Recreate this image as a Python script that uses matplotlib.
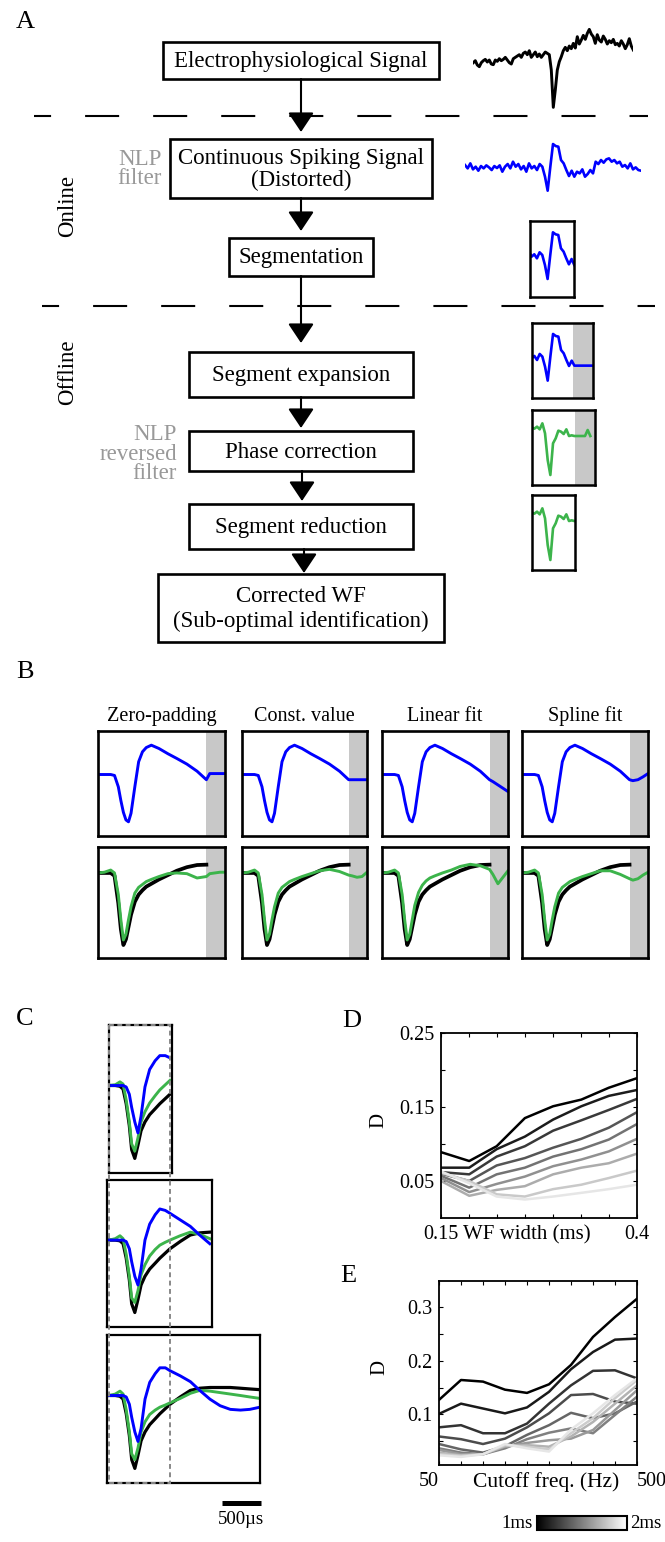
import numpy as np
import matplotlib.pyplot as plt
from matplotlib.patches import Rectangle
from matplotlib.cm import ScalarMappable
from matplotlib.colors import Normalize

plt.rcParams["font.family"] = ["Liberation Serif", "DejaVu Serif"]
plt.rcParams["lines.scale_dashes"] = False

W, H = 665, 1542
BLUE = "#0000ff"
GREEN = "#3cb44b"
SHADE = "#c8c8c8"
NOTE = "#999999"

# ---------------- data ----------------
# A: raw recording (uV), one sample per step
raw_trace = [-18, -12, -25, -30, -18, -12, -8, -16, -10, -22,
             -24, -10, -14, -6, -12, -8, -2, -10, -18, -22,
             -6, -2, 2, 6, -2, 10, 14, 6, 18, -2,
             6, 14, 0, 8, -2, 6, 14, 10, 6, -40,
             -152, -100, -40, -15, 0, 18, 28, 18, 32, 24,
             40, 26, 60, 38, 50, 64, 52, 70, 82, 68,
             60, 40, 66, 50, 44, 62, 52, 38, 48, 42,
             52, 36, 40, 32, 48, 38, 24, 36, 54, 32,
             20]
# A: NLP filtered (distorted) trace
nlp_trace = [5, -5, 10, -8, 0, -12, 2, -5, 4, -2,
             -10, 2, -4, 4, -15, 0, 8, -5, 15, 0,
             8, -8, 2, -15, 10, -5, 2, -10, 8, 0,
             -30, -72, 0, 68, 62, 60, 20, 10, -10, -28,
             -12, -30, -15, -20, -8, -30, -22, -10, -20, 15,
             8, 20, 12, 22, 25, 15, 20, 10, 15, 0,
             5, -5, 10, -8, -2, -10, -12]
seg_first, seg_last = 24, 41          # samples kept by the segmentation
seg_expansion = [-27, -27, -27, -27, -27, -27, -27, -27]
# phase corrected segment, samples 24..47
corrected_seg = [42, 48, 44, 50, 42, 60, 30, -50, -95, 0,
                 15, 38, 35, 28, 42, 22, 24, 22, 22, 22,
                 22, 22, 40, 22]

# B: expansion methods (time in ms, amplitude normalised to trough)
fill_methods = ["Zero-padding", "Const. value", "Linear fit", "Spline fit"]
t_b = [0, 0.075, 0.15, 0.195, 0.24, 0.27, 0.30, 0.33, 0.36, 0.39, 0.435, 0.48,
       0.525, 0.57, 0.63, 0.72, 0.825, 0.93, 1.05, 1.17, 1.28, 1.32, 1.38, 1.44, 1.5]
seg_end_b = 1.28
orig_b = [0, 0, 0, -0.04, -0.42, -0.78, -1.0, -0.92, -0.75, -0.58, -0.4, -0.3,
          -0.24, -0.19, -0.15, -0.09, -0.03, 0.03, 0.08, 0.11, 0.115]
dist_zero = [0, 0, 0, -0.02, -0.26, -0.55, -0.8, -0.96, -1.0, -0.82, -0.26, 0.27,
             0.48, 0.57, 0.62, 0.55, 0.44, 0.34, 0.22, 0.07, -0.11, 0.02, 0.02, 0.02, 0.02]
dist_const = [0, 0, 0, -0.02, -0.26, -0.55, -0.8, -0.96, -1.0, -0.82, -0.26, 0.27,
              0.48, 0.57, 0.62, 0.55, 0.44, 0.34, 0.22, 0.07, -0.11, -0.11, -0.11, -0.11, -0.11]
dist_linear = [0, 0, 0, -0.02, -0.26, -0.55, -0.8, -0.96, -1.0, -0.82, -0.26, 0.27,
               0.48, 0.57, 0.62, 0.55, 0.44, 0.34, 0.22, 0.07, -0.11, -0.15, -0.22, -0.29, -0.36]
dist_spline = [0, 0, 0, -0.02, -0.26, -0.55, -0.8, -0.96, -1.0, -0.82, -0.26, 0.27,
               0.48, 0.57, 0.62, 0.55, 0.44, 0.34, 0.22, 0.07, -0.11, -0.13, -0.11, -0.05, 0.02]
corr_zero = [0, 0.01, 0.04, 0.0, -0.3, -0.65, -0.93, -0.85, -0.65, -0.47, -0.28, -0.2,
             -0.16, -0.12, -0.09, -0.05, -0.01, 0.0, -0.01, -0.07, -0.05, -0.01, 0.0, 0.01, 0.01]
corr_const = [0, 0.01, 0.04, 0.0, -0.3, -0.65, -0.93, -0.85, -0.65, -0.47, -0.28, -0.2,
              -0.16, -0.12, -0.09, -0.05, -0.01, 0.03, 0.05, 0.02, -0.03, -0.04, -0.06, -0.05, 0.01]
corr_linear = [0, 0.01, 0.04, 0.0, -0.3, -0.65, -0.93, -0.85, -0.65, -0.45, -0.27, -0.17,
               -0.11, -0.07, -0.04, 0.0, 0.04, 0.09, 0.12, 0.1, 0.05, -0.02, -0.15, -0.06, 0.03]
corr_spline = [0, 0.01, 0.04, 0.0, -0.3, -0.65, -0.93, -0.85, -0.65, -0.47, -0.28, -0.2,
               -0.16, -0.12, -0.09, -0.05, -0.01, 0.03, 0.03, -0.02, -0.08, -0.1, -0.08, -0.03, 0.01]

# C: three segment lengths (time in ms)
t_c = [0, 0.08, 0.14, 0.18, 0.22, 0.26, 0.29, 0.33, 0.37, 0.41, 0.46, 0.52, 0.59,
       0.65, 0.72, 0.78, 0.91, 1.04, 1.16, 1.29, 1.42, 1.55, 1.68, 1.80, 1.93]
orig_c = [0, 0, -0.01, -0.05, -0.25, -0.55, -0.88, -1.0, -0.82, -0.62, -0.5, -0.4, -0.32,
          -0.25, -0.18, -0.12, -0.02, 0.07, 0.1, 0.11, 0.11, 0.11, 0.1, 0.09, 0.08]
green_c1 = [0, 0.01, 0.05, 0.02, -0.2, -0.5, -0.8, -0.9, -0.72, -0.5, -0.36, -0.24, -0.14,
            -0.06, 0.01, 0.07]
blue_c1 = [0, 0, 0, 0, -0.02, -0.12, -0.3, -0.5, -0.65, -0.42, -0.02, 0.22, 0.34, 0.41, 0.41, 0.38]
green_c2 = [0, 0.02, 0.06, 0.02, -0.2, -0.5, -0.8, -0.86, -0.7, -0.48, -0.34, -0.22, -0.13,
            -0.07, -0.03, 0.0, 0.06, 0.11, 0.08, 0.02]
blue_c2 = [0, 0, 0, 0, -0.02, -0.12, -0.3, -0.5, -0.62, -0.4, 0.0, 0.22, 0.35, 0.43, 0.41,
           0.37, 0.28, 0.19, 0.07, -0.05]
green_c3 = [0, 0.02, 0.06, 0.02, -0.2, -0.5, -0.8, -0.88, -0.72, -0.5, -0.36, -0.26, -0.2,
            -0.16, -0.13, -0.1, -0.04, 0.03, 0.07, 0.06, 0.04, 0.02, 0.0, -0.02, -0.04]
blue_c3 = [0, 0, 0, 0, -0.02, -0.12, -0.3, -0.5, -0.63, -0.45, -0.05, 0.18, 0.3, 0.38, 0.38,
           0.34, 0.27, 0.19, 0.07, -0.05, -0.14, -0.19, -0.2, -0.19, -0.16]
scale_bar_ms = 0.5

# D: distance vs WF width, one curve per segment length (1ms .. 2ms)
wf_width = [0.15, 0.186, 0.221, 0.257, 0.293, 0.329, 0.364, 0.40]
d_width = [
    [0.089, 0.077, 0.097, 0.135, 0.151, 0.160, 0.176, 0.189],
    [0.068, 0.068, 0.093, 0.110, 0.133, 0.151, 0.165, 0.173],
    [0.062, 0.059, 0.083, 0.097, 0.118, 0.132, 0.146, 0.161],
    [0.060, 0.050, 0.071, 0.081, 0.095, 0.107, 0.122, 0.143],
    [0.057, 0.041, 0.059, 0.068, 0.083, 0.093, 0.106, 0.127],
    [0.054, 0.035, 0.046, 0.056, 0.070, 0.079, 0.090, 0.107],
    [0.050, 0.030, 0.038, 0.043, 0.059, 0.068, 0.074, 0.087],
    [0.061, 0.050, 0.032, 0.029, 0.039, 0.045, 0.054, 0.064],
    [0.063, 0.047, 0.029, 0.025, 0.029, 0.034, 0.039, 0.045],
]
# E: distance vs cutoff frequency
cutoff_hz = [50, 100, 150, 200, 250, 300, 350, 400, 450, 500]
d_cutoff = [
    [0.127, 0.164, 0.161, 0.146, 0.140, 0.156, 0.192, 0.244, 0.281, 0.315],
    [0.101, 0.120, 0.111, 0.102, 0.113, 0.142, 0.184, 0.216, 0.239, 0.241],
    [0.076, 0.080, 0.065, 0.065, 0.083, 0.120, 0.154, 0.181, 0.182, 0.167],
    [0.059, 0.054, 0.045, 0.055, 0.076, 0.102, 0.136, 0.138, 0.124, 0.120],
    [0.045, 0.035, 0.029, 0.041, 0.062, 0.080, 0.103, 0.093, 0.102, 0.124],
    [0.037, 0.029, 0.026, 0.037, 0.054, 0.066, 0.074, 0.065, 0.099, 0.133],
    [0.034, 0.026, 0.026, 0.040, 0.047, 0.052, 0.055, 0.071, 0.108, 0.145],
    [0.029, 0.024, 0.026, 0.041, 0.043, 0.040, 0.059, 0.086, 0.120, 0.154],
    [0.026, 0.023, 0.026, 0.043, 0.040, 0.035, 0.065, 0.093, 0.130, 0.164],
    [0.024, 0.021, 0.026, 0.045, 0.037, 0.031, 0.072, 0.102, 0.136, 0.167],
]

# flowchart steps
steps = ["Electrophysiological Signal", "Continuous Spiking Signal\n(Distorted)",
         "Segmentation", "Segment expansion", "Phase correction",
         "Segment reduction", "Corrected WF\n(Sub-optimal identification)"]

# ---------------- layout (pixels) ----------------
step_boxes = [(163, 42, 439, 79), (170, 139, 432, 198), (229, 238, 373, 276),
              (189, 352, 413, 397), (189, 431, 413, 471), (189, 504, 413, 549),
              (158, 574, 444, 642)]
step_spacing = [1.0, 1.0, 1.0, 1.0, 1.0, 1.0, 1.25]
arrows = [(301, 79, 132), (301, 198, 231), (301, 276, 343), (301, 397, 428),
          (302, 471, 501), (304, 549, 573)]

fig = plt.figure(figsize=(W / 100, H / 100), dpi=100)


def px_axes(x0, y0, x1, y1, **kw):
    return fig.add_axes([x0 / W, 1 - y1 / H, (x1 - x0) / W, (y1 - y0) / H], **kw)


def boxed(ax, lw=1.8):
    ax.set_xticks([])
    ax.set_yticks([])
    for s in ax.spines.values():
        s.set_linewidth(lw)
        s.set_color("k")


bg = fig.add_axes([0, 0, 1, 1], zorder=10)
bg.set_xlim(0, W)
bg.set_ylim(H, 0)
bg.axis("off")
bg.patch.set_alpha(0)

# --- A: flowchart ---
for label, (x0, y0, x1, y1), ls in zip(steps, step_boxes, step_spacing):
    bg.add_patch(Rectangle((x0, y0), x1 - x0, y1 - y0, fc="white", ec="k", lw=1.9))
    bg.text((x0 + x1) / 2, (y0 + y1) / 2 + 1, label, ha="center", va="center",
            fontsize=16.5, linespacing=ls)
for x, ya, yb in arrows:
    bg.annotate("", xy=(x, yb), xytext=(x, ya),
                arrowprops=dict(arrowstyle="-|>,head_length=0.3,head_width=0.2",
                                mutation_scale=40, color="k", lw=1.5,
                                shrinkA=0, shrinkB=0))
bg.plot([34, 648], [116, 116], color="k", lw=1.5, linestyle=(12.2, (24.5, 24.5)))
bg.plot([42, 655], [306, 306], color="k", lw=1.5, linestyle=(12.2, (24.5, 24.5)))
bg.text(68, 206, "Online", rotation=90, ha="center", va="center", fontsize=16.5)
bg.text(68, 372, "Offline", rotation=90, ha="center", va="center", fontsize=16.5)
bg.text(162, 169, "NLP\nfilter", ha="right", va="center", fontsize=16.5,
        color=NOTE, linespacing=0.9)
bg.text(177, 454, "NLP\nreversed\nfilter", ha="right", va="center", fontsize=16.5,
        color=NOTE, linespacing=0.88)
for letter, x, y in [("A", 16, 28), ("B", 16, 678), ("C", 16, 1025),
                     ("D", 342, 1027), ("E", 340, 1282)]:
    bg.text(x, y, letter, fontsize=19, va="baseline")

# --- A: traces ---
ax = px_axes(473.3, 26.7, 633.3, 110)
ax.plot(np.arange(len(raw_trace)), raw_trace, color="k", lw=2.1)
ax.set_xlim(0, len(raw_trace) - 1)
ax.set_ylim(-160, 90)
ax.axis("off")

ax = px_axes(465, 136.7, 641, 196.7)
ax.plot(np.arange(len(nlp_trace)), nlp_trace, color=BLUE, lw=1.9)
ax.set_xlim(0, len(nlp_trace) - 1)
ax.set_ylim(-90, 90)
ax.axis("off")

seg_x = np.arange(seg_first, seg_last + 1)
ax = px_axes(530, 221, 574, 297.3)
ax.plot(seg_x, nlp_trace[seg_first:seg_last + 1], color=BLUE, lw=1.9)
ax.set_xlim(24.4, 40.9)
ax.set_ylim(-127, 102)
boxed(ax)

ax = px_axes(531.7, 323.3, 593.3, 398.3)
ax.axvspan(40.6, 48.1, color=SHADE, lw=0)
exp_vals = nlp_trace[seg_first:seg_last] + seg_expansion
ax.plot(np.arange(seg_first, seg_first + len(exp_vals)), exp_vals, color=BLUE, lw=1.9)
ax.set_xlim(25.0, 48.1)
ax.set_ylim(-125, 100)
boxed(ax)

ax = px_axes(531.7, 410, 595, 485)
ax.axvspan(41.25, 48.75, color=SHADE, lw=0)
ax.plot(np.arange(seg_first, seg_first + len(corrected_seg)), corrected_seg,
        color=GREEN, lw=1.9)
ax.set_xlim(25.0, 48.75)
ax.set_ylim(-125, 100)
boxed(ax)

ax = px_axes(531.7, 495, 575, 570)
ax.plot(seg_x, corrected_seg[:len(seg_x)], color=GREEN, lw=1.9)
ax.set_xlim(25.0, 41.25)
ax.set_ylim(-125, 100)
boxed(ax)

# --- B ---
b_cols = [(98, 225), (242, 367), (382, 508), (522, 648)]
b_dist = [dist_zero, dist_const, dist_linear, dist_spline]
b_corr = [corr_zero, corr_const, corr_linear, corr_spline]
for name, (x0, x1), dist, corr in zip(fill_methods, b_cols, b_dist, b_corr):
    top = px_axes(x0, 731, x1, 836)
    top.axvspan(seg_end_b, t_b[-1], color=SHADE, lw=0)
    top.plot(t_b, dist, color=BLUE, lw=2.1)
    top.set_xlim(0, t_b[-1])
    top.set_ylim(-1.30, 0.92)
    top.set_title(name, fontsize=14.5, pad=7)
    boxed(top, lw=1.9)

    bot = px_axes(x0, 847, x1, 958)
    bot.axvspan(seg_end_b, t_b[-1], color=SHADE, lw=0)
    bot.plot(t_b[:len(orig_b)], orig_b, color="k", lw=2.7)
    bot.plot(t_b, corr, color=GREEN, lw=2.1)
    bot.set_xlim(0, t_b[-1])
    bot.set_ylim(-1.18, 0.36)
    boxed(bot, lw=1.9)

# --- C ---
c_boxes = [((109, 1025, 172, 1173), (0, 0.806), green_c1, blue_c1),
           ((107, 1180, 212, 1327), (-0.026, 1.318), green_c2, blue_c2),
           ((107, 1335, 260, 1483), (-0.026, 1.93), green_c3, blue_c3)]
for (x0, y0, x1, y1), xl, gc, bc in c_boxes:
    ax = px_axes(x0, y0, x1, y1)
    n = len(gc)
    ax.plot(t_c[:n], orig_c[:n], color="k", lw=2.3)
    ax.plot(t_c[:n], gc, color=GREEN, lw=2.1)
    ax.plot(t_c[:n], bc, color=BLUE, lw=2.1)
    ax.set_xlim(*xl)
    ax.set_ylim(-1.2, 0.83)
    boxed(ax, lw=1.6)
ax.plot([1.44, 1.44 + scale_bar_ms], [-1.48, -1.48], color="k", lw=3.6,
        solid_capstyle="butt", clip_on=False)
ax.text(1.44 + scale_bar_ms / 2, -1.58, "500µs", ha="center", va="top", fontsize=13.5)
bg.add_patch(Rectangle((108.5, 1025), 61.5, 458, fill=False, ec="#888888", lw=1.4,
                       linestyle=(0, (3.5, 2.5))))

# --- D ---
axd = px_axes(441, 1033, 637, 1218)
for k, vals in enumerate(d_width):
    axd.plot(wf_width, vals, color=plt.cm.gray(0.9 * k / (len(d_width) - 1)), lw=1.8)
axd.set_xlim(wf_width[0], wf_width[-1])
axd.set_ylim(0, 0.25)
axd.set_xticks(wf_width)
axd.set_xticklabels(["0.15"] + [""] * 6 + ["0.4"])
axd.set_yticks([0.05, 0.10, 0.15, 0.20, 0.25])
axd.set_yticklabels(["0.05", "", "0.15", "", "0.25"])
axd.tick_params(direction="in", top=True, right=True, length=3, width=0.8,
                labelsize=14.5, pad=5)
axd.set_xlabel("WF width (ms)", fontsize=15)
axd.xaxis.set_label_coords(0.44, -0.04)
axd.set_ylabel("D", fontsize=15)
axd.yaxis.set_label_coords(-0.27, 0.53)
for s in axd.spines.values():
    s.set_linewidth(1.3)

# --- E ---
axe = px_axes(439, 1281, 637, 1465)
for k, vals in enumerate(d_cutoff):
    axe.plot(cutoff_hz, vals, color=plt.cm.gray(0.9 * k / (len(d_cutoff) - 1)), lw=1.8)
axe.set_xlim(cutoff_hz[0], cutoff_hz[-1])
axe.set_ylim(0.006, 0.348)
axe.set_xticks(cutoff_hz)
axe.set_xticklabels(["50"] + [""] * 8 + ["500"])
xl = axe.get_xticklabels()
xl[0].set_ha("right")
xl[-1].set_ha("left")
axe.set_yticks([0.05, 0.10, 0.15, 0.20, 0.25, 0.30])
axe.set_yticklabels(["", "0.1", "", "0.2", "", "0.3"])
axe.tick_params(direction="in", top=True, right=True, length=3, width=0.8,
                labelsize=14.5, pad=5)
axe.set_xlabel("Cutoff freq. (Hz)", fontsize=15.5)
axe.xaxis.set_label_coords(0.54, -0.04)
axe.set_ylabel("D", fontsize=15)
axe.yaxis.set_label_coords(-0.25, 0.53)
for s in axe.spines.values():
    s.set_linewidth(1.3)

# colour scale for segment length
cax = px_axes(537, 1516, 627, 1530)
cb = fig.colorbar(ScalarMappable(norm=Normalize(1, 2), cmap="gray"), cax=cax,
                  orientation="horizontal", ticks=[])
cb.outline.set_linewidth(1.5)
cax.text(-0.05, 0.45, "1ms", transform=cax.transAxes, ha="right", va="center", fontsize=13.5)
cax.text(1.04, 0.45, "2ms", transform=cax.transAxes, ha="left", va="center", fontsize=13.5)

fig.savefig("out.png", dpi=100)
